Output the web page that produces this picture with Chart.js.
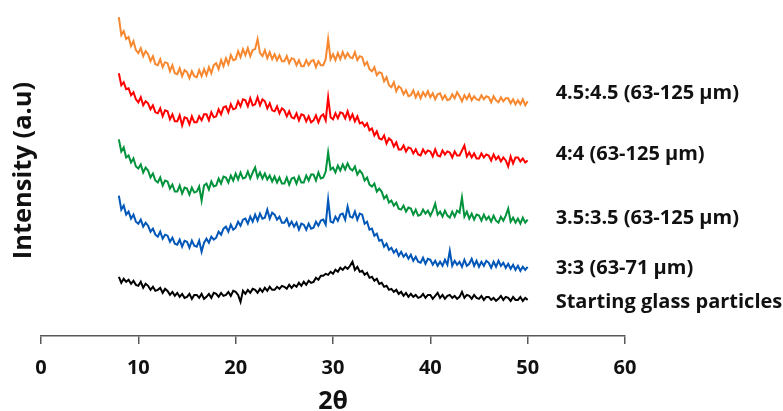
<!DOCTYPE html>
<html>
<head>
<meta charset="utf-8">
<script src="https://cdn.jsdelivr.net/npm/chart.js@4.4.1/dist/chart.umd.min.js"></script>
<style>
  html, body { margin: 0; padding: 0; background: #fff; }
  #wrap { width: 783px; height: 411px; }
</style>
</head>
<body>
<div id="wrap"><canvas id="xrdChart" width="783" height="411"></canvas></div>
<script>
// 2-theta sampling (degrees)
const twoTheta = [
  8, 8.25, 8.5, 8.75, 9, 9.25, 9.5, 9.75, 10, 10.25, 10.5, 10.75,
  11, 11.25, 11.5, 11.75, 12, 12.25, 12.5, 12.75, 13, 13.25, 13.5, 13.75,
  14, 14.25, 14.5, 14.75, 15, 15.25, 15.5, 15.75, 16, 16.25, 16.5, 16.75,
  17, 17.25, 17.5, 17.75, 18, 18.25, 18.5, 18.75, 19, 19.25, 19.5, 19.75,
  20, 20.25, 20.5, 20.75, 21, 21.25, 21.5, 21.75, 22, 22.25, 22.5, 22.75,
  23, 23.25, 23.5, 23.75, 24, 24.25, 24.5, 24.75, 25, 25.25, 25.5, 25.75,
  26, 26.25, 26.5, 26.75, 27, 27.25, 27.5, 27.75, 28, 28.25, 28.5, 28.75,
  29, 29.25, 29.5, 29.75, 30, 30.25, 30.5, 30.75, 31, 31.25, 31.5, 31.75,
  32, 32.25, 32.5, 32.75, 33, 33.25, 33.5, 33.75, 34, 34.25, 34.5, 34.75,
  35, 35.25, 35.5, 35.75, 36, 36.25, 36.5, 36.75, 37, 37.25, 37.5, 37.75,
  38, 38.25, 38.5, 38.75, 39, 39.25, 39.5, 39.75, 40, 40.25, 40.5, 40.75,
  41, 41.25, 41.5, 41.75, 42, 42.25, 42.5, 42.75, 43, 43.25, 43.5, 43.75,
  44, 44.25, 44.5, 44.75, 45, 45.25, 45.5, 45.75, 46, 46.25, 46.5, 46.75,
  47, 47.25, 47.5, 47.75, 48, 48.25, 48.5, 48.75, 49, 49.25, 49.5, 49.75,
  50
];

const seriesNames = [
  "4.5:4.5 (63-125 µm)",
  "4:4 (63-125 µm)",
  "3.5:3.5 (63-125 µm)",
  "3:3 (63-71 µm)",
  "Starting glass particles"
];

// intensities (a.u., stacked offsets as plotted)
const ratio45 = [
  318, 300, 304, 296, 298, 289, 294, 285, 282, 287, 279, 284,
  281, 274, 279, 271, 270, 276, 268, 273, 272, 264, 270, 262,
  261, 267, 259, 265, 263, 257, 264, 259, 258, 265, 259, 266,
  260, 268, 262, 270, 272, 266, 275, 269, 277, 271, 280, 275,
  276, 284, 278, 286, 280, 287, 279, 285, 286, 296, 282, 279,
  285, 277, 283, 276, 281, 275, 280, 274, 274, 279, 272, 277,
  276, 270, 275, 269, 269, 275, 270, 274, 275, 268, 274, 270,
  270, 276, 296, 276, 281, 275, 282, 276, 283, 277, 282, 278,
  277, 283, 275, 279, 278, 270, 273, 266, 264, 268, 260, 263,
  262, 254, 258, 250, 248, 253, 244, 249, 247, 241, 245, 239,
  240, 245, 238, 243, 237, 243, 239, 244, 238, 242, 236, 241,
  242, 236, 240, 235, 236, 241, 237, 243, 239, 234, 240, 236,
  241, 235, 239, 236, 235, 240, 236, 239, 238, 233, 239, 235,
  233, 238, 234, 237, 237, 232, 236, 231, 235, 231, 236, 230,
  234
];

const ratio40 = [
  262, 250, 253, 246, 247, 240, 243, 236, 233, 238, 230, 234,
  232, 226, 230, 223, 222, 227, 219, 225, 224, 216, 221, 214,
  214, 220, 210, 218, 217, 211, 219, 213, 213, 219, 215, 221,
  221, 215, 223, 218, 219, 226, 221, 228, 229, 223, 231, 226,
  227, 234, 229, 236, 235, 229, 237, 230, 231, 238, 230, 236,
  234, 227, 232, 225, 224, 229, 222, 227, 225, 219, 224, 218,
  217, 222, 215, 221, 220, 214, 219, 213, 215, 220, 213, 219,
  221, 215, 238, 218, 216, 222, 217, 223, 222, 217, 224, 216,
  221, 214, 219, 212, 213, 209, 212, 205, 207, 200, 204, 197,
  196, 200, 192, 197, 195, 189, 193, 186, 186, 190, 184, 188,
  187, 182, 186, 181, 180, 186, 182, 185, 184, 179, 186, 180,
  179, 185, 181, 184, 183, 178, 184, 180, 180, 185, 190, 179,
  183, 178, 182, 177, 177, 182, 178, 181, 180, 175, 181, 176,
  179, 174, 178, 175, 169, 179, 172, 178, 178, 174, 177, 173,
  175
];

const ratio35 = [
  196, 184, 188, 178, 180, 173, 177, 169, 167, 171, 163, 168,
  165, 158, 162, 155, 153, 158, 150, 155, 154, 147, 151, 144,
  144, 150, 142, 148, 147, 141, 148, 143, 144, 149, 135, 150,
  152, 146, 154, 149, 150, 157, 152, 159, 158, 153, 160, 155,
  162, 156, 163, 157, 158, 164, 157, 163, 168, 158, 163, 157,
  162, 156, 160, 154, 159, 153, 158, 152, 152, 158, 151, 157,
  158, 152, 159, 153, 153, 160, 155, 161, 161, 155, 163, 157,
  158, 164, 183, 166, 168, 163, 170, 165, 171, 166, 172, 167,
  165, 169, 161, 165, 162, 155, 158, 151, 149, 152, 144, 147,
  144, 137, 140, 133, 135, 130, 133, 127, 126, 130, 124, 128,
  127, 121, 126, 120, 121, 126, 122, 125, 120, 125, 132, 121,
  124, 119, 125, 120, 118, 124, 119, 125, 123, 138, 119, 124,
  117, 122, 116, 121, 120, 115, 121, 116, 119, 114, 120, 115,
  113, 119, 115, 120, 127, 114, 118, 113, 117, 112, 118, 113,
  116
];

const ratio30 = [
  140, 126, 130, 121, 124, 117, 121, 114, 112, 116, 109, 113,
  110, 104, 107, 101, 99, 104, 97, 101, 100, 94, 98, 92,
  91, 96, 89, 95, 94, 88, 95, 90, 89, 95, 84, 93,
  97, 93, 99, 96, 98, 104, 101, 107, 109, 104, 111, 106,
  108, 114, 110, 116, 117, 112, 119, 114, 121, 115, 122, 117,
  118, 126, 117, 123, 121, 116, 119, 113, 113, 117, 110, 114,
  109, 113, 106, 112, 111, 106, 112, 107, 108, 114, 110, 115,
  116, 111, 136, 114, 113, 119, 115, 121, 122, 116, 129, 119,
  118, 124, 116, 122, 121, 112, 114, 106, 107, 100, 102, 95,
  96, 89, 92, 86, 88, 83, 86, 80, 84, 79, 82, 77,
  81, 75, 79, 74, 73, 78, 72, 77, 76, 71, 75, 70,
  74, 70, 76, 71, 85, 70, 75, 71, 74, 69, 76, 70,
  72, 77, 70, 75, 69, 74, 70, 75, 73, 68, 74, 69,
  75, 70, 73, 68, 72, 67, 71, 66, 70, 65, 69, 66,
  69
];

const glassStart = [
  59, 53, 57, 54, 56, 52, 55, 51, 50, 54, 48, 52,
  50, 46, 49, 45, 46, 48, 43, 47, 45, 41, 44, 40,
  43, 39, 42, 38, 39, 42, 37, 41, 41, 38, 42, 37,
  39, 42, 38, 43, 42, 39, 43, 40, 41, 44, 40, 45,
  44, 41, 34, 45, 42, 46, 43, 47, 46, 43, 47, 44,
  48, 45, 49, 46, 46, 49, 47, 50, 49, 47, 51, 48,
  51, 49, 53, 50, 54, 51, 55, 53, 54, 58, 56, 60,
  60, 62, 61, 64, 62, 66, 64, 68, 66, 69, 67, 70,
  74, 66, 69, 64, 65, 61, 63, 58, 59, 55, 57, 52,
  53, 49, 50, 46, 47, 44, 46, 42, 44, 40, 43, 39,
  42, 39, 41, 38, 39, 42, 38, 41, 41, 37, 40, 43,
  38, 41, 37, 40, 41, 38, 40, 37, 39, 44, 38, 41,
  40, 37, 41, 38, 37, 40, 36, 39, 39, 36, 38, 35,
  37, 40, 36, 39, 38, 35, 39, 36, 36, 39, 35, 38,
  36
];

const xTickValues = [0, 10, 20, 30, 40, 50, 60];

const seriesValues = [ratio45, ratio40, ratio35, ratio30, glassStart];
const seriesColors = ["#F7882F", "#FF0000", "#00933B", "#0057B8", "#000000"];

const curveLabels = {
  id: "curveLabels",
  afterDatasetsDraw(chart, args, opts) {
    const { ctx, scales } = chart;
    ctx.save();
    ctx.font = opts.font;
    ctx.fillStyle = opts.color;
    ctx.textBaseline = "alphabetic";
    chart.data.datasets.forEach((ds, i) => {
      const last = ds.data[ds.data.length - 1];
      const x = scales.x.getPixelForValue(last.x) + opts.gap;
      const y = scales.y.getPixelForValue(last.y) + opts.offsets[i];
      ctx.fillText(seriesNames[i], x, y);
    });
    ctx.restore();
  }
};

const datasets = seriesValues.map((values, i) => ({
  label: seriesNames[i],
  data: values.map((v, k) => ({ x: twoTheta[k], y: v })),
  borderColor: seriesColors[i],
  borderWidth: 2,
  pointRadius: 0,
  tension: 0,
  fill: false
}));

new Chart(document.getElementById("xrdChart"), {
  type: "line",
  data: { datasets },
  plugins: [curveLabels],
  options: {
    responsive: false,
    animation: false,
    layout: { padding: { left: 15, right: 158, top: 5, bottom: 0 } },
    plugins: {
      legend: { display: false },
      tooltip: { enabled: false },
      curveLabels: {
        font: "bold 20px 'Open Sans'",
        color: "#111",
        gap: 28,
        offsets: [-2, 0, 4, 7, 8]
      }
    },
    scales: {
      x: {
        type: "linear",
        min: 0,
        max: 60,
        afterBuildTicks: (axis) => { axis.ticks = xTickValues.map((v) => ({ value: v })); },
        border: { display: true, color: "#595959", width: 1.5 },
        grid: { drawOnChartArea: false, drawTicks: true, tickLength: 8, color: "#595959", lineWidth: 1.5 },
        ticks: { color: "#111", padding: 14, font: { family: "'Open Sans'", size: 20, weight: "bold", lineHeight: 1 } },
        title: {
          display: true,
          text: "2θ",
          color: "#111",
          padding: { top: 0, bottom: 0 },
          font: { family: "'Open Sans'", size: 25, weight: "bold", lineHeight: "19px" }
        }
      },
      y: {
        min: 0,
        max: 330,
        border: { display: false },
        grid: { display: false },
        ticks: { display: false },
        title: {
          display: true,
          text: "Intensity (a.u)",
          color: "#111",
          padding: { top: 0, bottom: 0 },
          font: { family: "'Open Sans'", size: 25.5, weight: "bold", lineHeight: "18px" }
        }
      }
    }
  }
});
</script>
</body>
</html>
